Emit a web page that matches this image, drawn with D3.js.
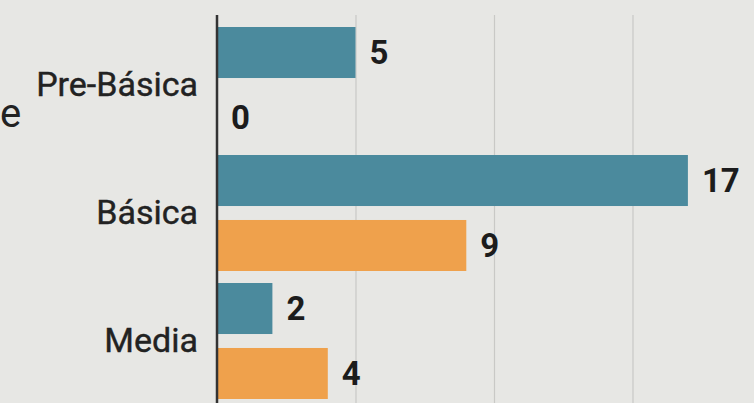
<!DOCTYPE html>
<html>
<head>
<meta charset="utf-8">
<script src="https://cdn.jsdelivr.net/npm/d3@7"></script>
<style>
  html, body { margin: 0; padding: 0; background: #e7e7e4; overflow: hidden; }
  svg { display: block; font-family: Roboto, "Noto Sans", sans-serif; }
</style>
</head>
<body>
<svg></svg>
<script>
const categories = ["Pre-Básica", "Básica", "Media"];
const seriesNames = ["serie1", "serie2"];
const serie1 = [5, 17, 2];
const serie2 = [0, 9, 4];
const xTicks = [5, 10, 15, 20];

const colors = { serie1: "#4b8a9d", serie2: "#efa14c" };

const svgWidth = 754, svgHeight = 403;
const margin = { top: 15, left: 217 };
const unit = 27.7; /* px per value */

const dataset = categories.map((c, i) => ({ cat: c, serie1: serie1[i], serie2: serie2[i] }));

const svg = d3.select("svg")
  .attr("width", svgWidth)
  .attr("height", svgHeight);

svg.append("rect")
  .attr("width", svgWidth).attr("height", svgHeight)
  .attr("fill", "#e7e7e4");

const xScale = d3.scaleLinear().domain([0, 20])
  .range([margin.left, margin.left + unit * 20]);

const yScale = d3.scaleBand().domain(categories)
  .range([21, 405])
  .paddingInner(0.09375)
  .paddingOuter(0.046875);

const subScale = d3.scaleBand().domain(seriesNames)
  .range([0, yScale.bandwidth()])
  .paddingInner(0.215);

// grid lines
const grid = svg.append("g")
  .attr("transform", `translate(0, ${margin.top})`)
  .call(d3.axisTop(xScale).tickValues(xTicks).tickSize(-(svgHeight - margin.top)).tickFormat(""));
grid.select(".domain").remove();
grid.selectAll(".tick line").attr("stroke", "#c9c9c6").attr("stroke-width", 1.2);

// bars
const groups = svg.selectAll(".group")
  .data(dataset)
  .enter()
  .append("g")
  .attr("class", "group")
  .attr("transform", d => `translate(0, ${yScale(d.cat)})`);

groups.selectAll("rect")
  .data(d => seriesNames.map(k => ({ key: k, value: d[k] })))
  .enter()
  .append("rect")
  .attr("x", xScale(0))
  .attr("y", d => subScale(d.key))
  .attr("width", d => xScale(d.value) - xScale(0))
  .attr("height", subScale.bandwidth())
  .attr("fill", d => colors[d.key]);

groups.selectAll(".val")
  .data(d => seriesNames.map(k => ({ key: k, value: d[k] })))
  .enter()
  .append("text")
  .attr("class", "val")
  .attr("x", d => xScale(d.value) + 14)
  .attr("y", d => subScale(d.key) + subScale.bandwidth() / 2)
  .attr("dy", "0.36em")
  .attr("font-size", 33)
  .attr("font-weight", "bold")
  .attr("fill", "#1c1c1c")
  .text(d => d.value);

// y axis
const yAxis = svg.append("g")
  .attr("transform", `translate(${margin.left}, 0)`)
  .call(d3.axisLeft(yScale).tickSize(0).tickPadding(19));
yAxis.select(".domain").remove();
yAxis.selectAll("text")
  .attr("font-size", 34)
  .attr("font-family", "Roboto, sans-serif")
  .attr("fill", "#222")
  .attr("stroke", "#222")
  .attr("stroke-width", 0.4);

svg.append("line")
  .attr("x1", margin.left).attr("x2", margin.left)
  .attr("y1", margin.top).attr("y2", svgHeight)
  .attr("stroke", "#333").attr("stroke-width", 2.5);

// title fragment at the left edge
svg.append("text")
  .attr("x", 0).attr("y", 127)
  .attr("font-size", 40)
  .attr("fill", "#222")
  .text("e");
</script>
</body>
</html>
